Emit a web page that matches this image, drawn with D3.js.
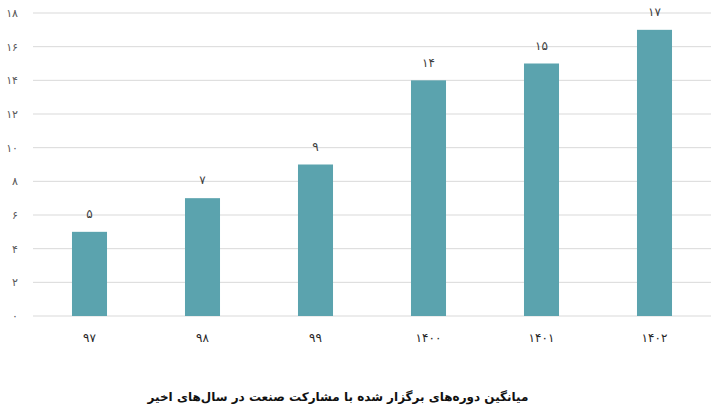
<!DOCTYPE html>
<html><head><meta charset="utf-8">
<script src="https://cdn.jsdelivr.net/npm/d3@7"></script>
<style>body{margin:0;background:#fff}svg{display:block}</style>
</head><body>
<svg id="c" width="720" height="412"></svg>
<script>
const categories = ["۹۷","۹۸","۹۹","۱۴۰۰","۱۴۰۱","۱۴۰۲"];
const values = [5, 7, 9, 14, 15, 17];
const valueLabels = ["۵","۷","۹","۱۴","۱۵","۱۷"];
const yTicks = [0,2,4,6,8,10,12,14,16,18];
const yTickLabels = ["۰","۲","۴","۶","۸","۱۰","۱۲","۱۴","۱۶","۱۸"];
const title = "میانگین دوره‌های برگزار شده با مشارکت صنعت در سال‌های اخیر";

const svg = d3.select("#c");
const font = "DejaVu Sans, sans-serif";
const x = d3.scaleBand().domain(categories).range([33, 711]).paddingInner(0.69).paddingOuter(0.345);
const y = d3.scaleLinear().domain([0, 18]).range([316, 13]);

svg.append("g").selectAll("line").data(yTicks).join("line")
  .attr("x1", 33).attr("x2", 711)
  .attr("y1", d => y(d)).attr("y2", d => y(d))
  .attr("stroke", "#d9d9d9").attr("stroke-width", 1);

svg.append("g").selectAll("text").data(yTicks).join("text")
  .attr("x", 18).attr("y", d => y(d)).attr("dy", "0.35em")
  .attr("text-anchor", "end").attr("font-family", font).attr("font-size", 11)
  .attr("fill", "#595959").text((d, i) => yTickLabels[i]);

svg.append("g").selectAll("rect").data(values).join("rect")
  .attr("x", (d, i) => x(categories[i])).attr("width", x.bandwidth())
  .attr("y", d => y(d)).attr("height", d => y(0) - y(d))
  .attr("fill", "#5ba3ae");

svg.append("g").selectAll("text").data(values).join("text")
  .attr("x", (d, i) => x(categories[i]) + x.bandwidth() / 2)
  .attr("y", d => y(d) - 18).attr("dy", "0.35em")
  .attr("text-anchor", "middle").attr("font-family", font).attr("font-size", 12)
  .attr("fill", "#404040").text((d, i) => valueLabels[i]);

svg.append("g").selectAll("text").data(categories).join("text")
  .attr("x", d => x(d) + x.bandwidth() / 2).attr("y", 338).attr("dy", "0.35em")
  .attr("text-anchor", "middle").attr("font-family", font).attr("font-size", 12)
  .attr("fill", "#262626").text(d => d);

svg.append("text").attr("x", 338).attr("y", 397).attr("dy", "0.35em")
  .attr("text-anchor", "middle").attr("font-family", font).attr("font-size", 12)
  .attr("font-weight", "bold").attr("fill", "#111").attr("direction", "rtl").text(title);
</script>
</body></html>
